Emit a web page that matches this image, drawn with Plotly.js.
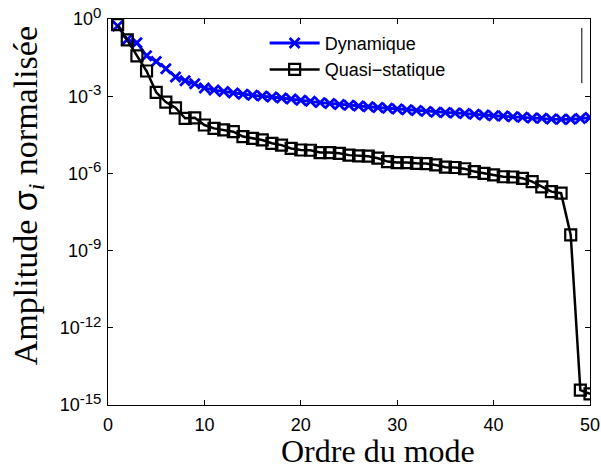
<!DOCTYPE html>
<html>
<head>
<meta charset="utf-8">
<script src="https://cdn.plot.ly/plotly-3.0.1.min.js"></script>
<style>html,body{margin:0;padding:0;background:#fff;}</style>
</head>
<body>
<div id="chart" style="width:601px;height:468px;"></div>
<script>
// Mode order
const modes = [1,2,3,4,5,6,7,8,9,10,11,12,13,14,15,16,17,18,19,20,21,22,23,24,25,26,27,28,29,30,31,32,33,34,35,36,37,38,39,40,41,42,43,44,45,46,47,48,49,50];
// log10 of normalised amplitude
const dynLog = [-0.27,-0.8,-0.92,-1.43,-1.65,-1.93,-2.25,-2.4,-2.52,-2.68,-2.76,-2.82,-2.88,-2.92,-2.96,-2.99,-3.03,-3.07,-3.11,-3.16,-3.2,-3.25,-3.28,-3.32,-3.35,-3.38,-3.41,-3.44,-3.47,-3.5,-3.53,-3.56,-3.59,-3.62,-3.63,-3.65,-3.67,-3.7,-3.73,-3.76,-3.77,-3.8,-3.82,-3.85,-3.86,-3.89,-3.9,-3.9,-3.87,-3.83];
const qsLog = [-0.22,-0.81,-1.43,-2.02,-2.85,-3.23,-3.45,-3.86,-3.84,-4.12,-4.25,-4.31,-4.38,-4.57,-4.64,-4.7,-4.83,-4.9,-5.03,-5.09,-5.1,-5.19,-5.19,-5.22,-5.29,-5.32,-5.33,-5.41,-5.54,-5.58,-5.58,-5.61,-5.62,-5.67,-5.76,-5.77,-5.82,-5.93,-6.0,-6.06,-6.13,-6.14,-6.19,-6.32,-6.52,-6.71,-6.77,-8.39,-14.42,-14.57];
const yTickVals = [1e0,1e-3,1e-6,1e-9,1e-12,1e-15];
const yTickExp = ['0','-3','-6','-9','-12','-15'];
const xTickVals = [0,10,20,30,40,50];
const seriesNames = ['Dynamique','Quasi\u2212statique'];
const xTitle = 'Ordre du mode';
const yTitle = 'Amplitude <span style="font-family:Liberation Sans, Arial, sans-serif">\u03c3</span><sub><i>i</i></sub> normalisée';

const yTickText = yTickExp.map(e => '10<sup><span style="font-size:15px">' + e + '</span></sup>');
const dyn = dynLog.map(v => Math.pow(10, v));
const qs = qsLog.map(v => Math.pow(10, v));

const traces = [
  {x: modes, y: dyn, name: seriesNames[0], mode: 'lines+markers', type: 'scatter',
   line: {color: '#0000ff', width: 2.8},
   marker: {symbol: 'x-thin-open', size: 10, color: '#0000ff', line: {color: '#0000ff', width: 2.8}}},
  {x: modes, y: qs, name: seriesNames[1], mode: 'lines+markers', type: 'scatter',
   line: {color: '#000000', width: 2.5},
   marker: {symbol: 'square-open', size: 11, color: '#000000', line: {color: '#000000', width: 2.2}}}
];

const tickFont = {family: 'Liberation Sans, Arial, sans-serif', size: 18, color: '#000'};
const titleFont = {family: 'Liberation Serif, Times New Roman, serif', size: 32, color: '#000'};
const layout = {
  width: 601, height: 468,
  margin: {l: 108, r: 11, t: 19, b: 63},
  paper_bgcolor: '#fff', plot_bgcolor: '#fff',
  showlegend: true,
  legend: {x: 0.325, y: 0.985, xanchor: 'left', yanchor: 'top', bgcolor: 'rgba(0,0,0,0)',
           font: {family: 'Liberation Sans, Arial, sans-serif', size: 18, color: '#000'},
           tracegroupgap: 0, itemwidth: 50},
  xaxis: {range: [0, 50], tickvals: xTickVals, ticks: 'inside', ticklen: 5, tickcolor: '#000',
          showline: true, linecolor: '#000', linewidth: 1, mirror: 'ticks', showgrid: false,
          zeroline: false, tickfont: tickFont, ticklabelstandoff: 3},
  yaxis: {type: 'log', range: [-15, 0], tickvals: yTickVals, ticktext: yTickText, ticks: 'inside', ticklen: 5,
          tickcolor: '#000', showline: true, linecolor: '#000', linewidth: 1, mirror: 'ticks',
          showgrid: false, zeroline: false, tickfont: tickFont, ticklabelstandoff: 2},
  annotations: [
    {text: xTitle, xref: 'paper', yref: 'paper', x: 0.56, y: -0.118, xanchor: 'center', yanchor: 'middle',
     borderpad: 0, showarrow: false, font: titleFont},
    {text: yTitle, xref: 'paper', yref: 'paper', x: -0.168, y: 0.541, xanchor: 'center', yanchor: 'middle',
     borderpad: 0, textangle: -90, showarrow: false, font: {family: titleFont.family, size: 34, color: '#000'}}
  ],
  shapes: [
    {type: 'line', xref: 'paper', yref: 'paper', x0: 0.983, x1: 0.983, y0: 0.834, y1: 0.977,
     line: {color: '#000', width: 1}}
  ]
};

Plotly.newPlot('chart', traces, layout, {displayModeBar: false, staticPlot: true});
</script>
</body>
</html>
